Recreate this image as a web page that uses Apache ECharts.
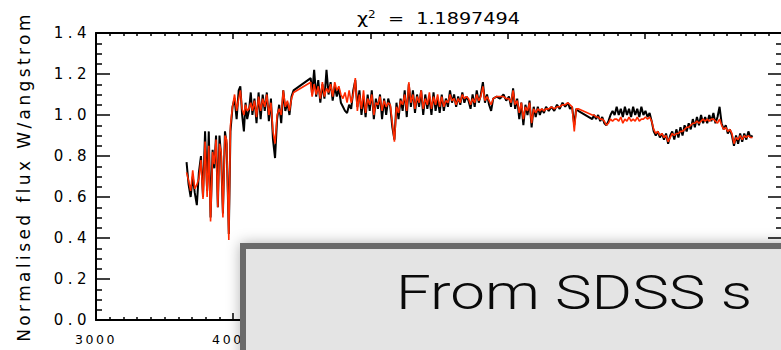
<!DOCTYPE html>
<html>
<head>
<meta charset="utf-8">
<script src="https://cdn.jsdelivr.net/npm/echarts@6/dist/echarts.min.js"></script>
<style>
html,body{margin:0;padding:0;background:#fff;}
#chart{width:781px;height:350px;}
/* IDL-style wide character spacing for axis texts */
#chart text[style*="17px"]{letter-spacing:3.4px;}
#chart text[style*="15px"]{letter-spacing:4.5px;}
#chart text[style*="12.5px"]{letter-spacing:2.6px;}
</style>
</head>
<body>
<div id="chart"></div>
<script>
// Wavelength (angstrom)
var wavelength = [3660,3675,3690,3705,3720,3735,3750,3765,3780,3795,3810,3822,3835,3850,3862,3875,3888,3900,3912,3925,3940,3952,3968,3980,3995,
4010,4025,4040,4052,4065,4078,4090,4102,4115,4128,4140,4155,4170,4185,4200,4215,4230,4245,4260,4275,4290,4305,4320,4335,4350,4365,4380,4395,4410,4425,4440,
4565,4575,4590,4605,4620,4635,4650,4665,4680,4695,4710,4725,4740,4755,4770,4785,4800,4815,4830,4845,4860,4875,4890,4905,4920,4935,4950,4965,4980,4995,
5010,5025,5040,5055,5070,5085,5100,5115,5130,5145,5160,5175,5190,5205,5220,5235,5250,5265,5280,5295,5310,5325,5340,5355,5370,5385,5400,5415,5430,5445,
5460,5475,5490,5505,5520,5535,5550,5565,5580,5595,5610,5625,5640,5655,5670,5685,5700,5715,5730,5745,5760,5775,5790,5805,5820,5835,5850,5865,5880,5895,
5920,5945,5970,5990,6010,6025,6040,6055,6070,6085,6100,6115,6130,6145,6160,6175,6190,6205,6220,6235,6250,6265,6280,6300,6320,6340,6360,6380,6400,6420,
6440,6455,6470,6486,6500,6515,6617,6630,6645,6660,6675,6690,6705,6720,6735,6750,6765,6780,6795,6810,6825,6840,6855,6870,6885,6900,6915,6930,6945,6960,
6975,6990,7005,7020,7035,7050,7065,7080,7095,7110,7125,7140,7155,7170,7185,7200,7215,7230,7245,7260,7275,7290,7305,7320,7335,7350,7365,7380,7395,7410,
7425,7440,7455,7470,7485,7500,7515,7530,7545,7560,7575,7590,7605,7620,7635,7650,7665,7680,7695,7710,7725,7740,7755,7770,7785];

// Observed spectrum (black)
var fluxObserved = [0.77,0.66,0.60,0.70,0.62,0.56,0.72,0.80,0.60,0.92,0.63,0.92,0.50,0.83,0.74,0.90,0.55,0.90,0.80,0.52,0.92,0.86,0.42,0.92,1.04,
1.08,0.98,1.12,1.14,1.00,0.92,1.06,0.98,1.02,1.11,1.00,1.08,0.96,1.11,0.98,1.10,1.02,1.11,0.97,1.08,0.88,0.79,0.98,1.05,0.96,1.12,1.02,1.06,1.00,1.09,1.12,
1.18,1.10,1.22,1.09,1.17,1.06,1.15,1.08,1.22,1.10,1.16,1.07,1.14,1.09,1.13,1.06,1.04,1.02,1.01,1.05,1.03,1.12,1.17,1.04,1.12,1.00,1.09,0.99,1.10,1.02,
1.12,0.98,1.08,1.03,1.10,0.98,1.08,1.00,1.08,1.04,0.94,0.88,1.06,0.98,1.08,1.02,1.12,0.99,1.15,1.04,1.12,1.01,1.10,1.04,1.12,1.00,1.10,1.03,1.09,1.00,
1.11,1.02,1.08,1.01,1.10,1.02,1.08,1.04,1.12,1.06,1.10,1.04,1.09,1.05,1.11,1.06,1.09,1.07,1.03,1.10,1.04,1.12,1.06,1.10,1.16,1.06,1.10,1.05,1.02,1.08,
1.09,1.08,1.10,1.07,1.09,1.04,1.13,1.03,1.08,0.98,1.06,0.95,1.05,1.00,1.07,0.94,1.04,0.99,1.04,1.00,1.03,1.01,1.04,1.02,1.04,1.02,1.05,1.03,1.06,1.04,
1.06,1.03,1.04,0.95,1.03,1.02,0.98,1.00,0.98,1.00,0.97,0.99,0.96,0.95,0.97,1.00,1.02,1.00,1.04,1.00,1.03,0.99,1.04,1.00,1.03,0.99,1.04,1.00,1.03,0.99,
1.04,1.00,1.02,0.99,1.01,0.97,0.92,0.90,0.92,0.89,0.91,0.88,0.91,0.86,0.90,0.92,0.88,0.93,0.89,0.94,0.90,0.95,0.92,0.96,0.93,0.98,0.94,0.99,0.95,1.00,
0.96,0.99,0.96,1.00,0.97,1.01,0.96,0.99,1.04,0.96,0.93,0.95,0.91,0.93,0.90,0.85,0.90,0.86,0.91,0.87,0.91,0.88,0.92,0.89,0.90];

// Model fit (red)
var fluxModel = [0.72,0.68,0.63,0.73,0.64,0.66,0.69,0.78,0.59,0.87,0.60,0.85,0.48,0.82,0.76,0.88,0.55,0.86,0.82,0.50,0.90,0.88,0.39,0.95,1.04,
1.10,1.02,1.08,1.12,1.03,1.00,1.05,1.02,1.03,1.06,1.02,1.07,0.99,1.09,1.02,1.08,1.04,1.10,1.00,1.06,0.92,0.86,1.00,1.03,1.00,1.12,1.04,1.07,1.02,1.08,1.11,
1.16,1.09,1.15,1.10,1.14,1.08,1.16,1.09,1.13,1.11,1.15,1.09,1.16,1.12,1.14,1.10,1.08,1.11,1.06,1.12,1.06,1.10,1.18,1.02,1.10,1.03,1.12,1.01,1.08,1.05,
1.10,1.00,1.06,1.05,1.09,1.02,1.07,1.04,1.06,1.05,0.96,0.87,1.04,1.01,1.07,1.05,1.10,1.02,1.16,1.06,1.10,1.03,1.09,1.06,1.12,1.03,1.08,1.05,1.11,1.03,
1.09,1.05,1.10,1.04,1.09,1.04,1.07,1.06,1.10,1.07,1.08,1.05,1.08,1.06,1.10,1.08,1.09,1.08,1.05,1.08,1.06,1.10,1.07,1.09,1.14,1.07,1.09,1.07,1.05,1.08,
1.09,1.09,1.09,1.08,1.08,1.06,1.12,1.05,1.07,1.01,1.06,0.98,1.04,1.02,1.06,0.96,1.03,1.01,1.03,1.02,1.03,1.02,1.03,1.03,1.04,1.03,1.04,1.04,1.05,1.05,
1.06,1.05,1.04,0.92,1.03,1.03,1.00,1.00,0.99,0.99,0.98,0.98,0.97,0.95,0.96,0.98,0.97,0.98,0.98,0.97,0.99,0.96,0.98,0.97,0.99,0.97,0.98,0.97,0.99,0.97,
0.98,0.98,0.99,0.98,0.99,0.97,0.93,0.91,0.92,0.90,0.91,0.89,0.90,0.87,0.89,0.91,0.90,0.91,0.91,0.92,0.92,0.93,0.94,0.94,0.95,0.96,0.96,0.97,0.96,0.97,
0.98,0.97,0.98,0.97,0.98,0.98,0.97,0.96,0.98,0.95,0.93,0.94,0.92,0.93,0.91,0.86,0.89,0.88,0.90,0.88,0.90,0.89,0.90,0.89,0.89];

var xTicks = [3000,4000,5000,6000,7000,8000];
var yTicks = [0.0,0.2,0.4,0.6,0.8,1.0,1.2,1.4];
var chiSquared = '1.1897494';
var yTitle = 'Normalised flux W/angstrom';
var overlayText = 'From SDSS s';

var obsData = [], modData = [];
for (var i = 0; i < wavelength.length; i++) {
  obsData.push([wavelength[i], fluxObserved[i]]);
  modData.push([wavelength[i], fluxModel[i]]);
}

var chart = echarts.init(document.getElementById('chart'), null, {renderer: 'svg'});
var FONT = 'DejaVu Sans';
var axisCommon = {
  axisLine: {show: true, onZero: false, lineStyle: {color: '#000', width: 2}},
  splitLine: {show: false},
  minorSplitLine: {show: false}
};
var option = {
  animation: false,
  backgroundColor: '#fff',
  grid: {left: 96, top: 33, width: 686, height: 287, containLabel: false, outerBoundsMode: 'none'},
  xAxis: [
    Object.assign({}, axisCommon, {
      type: 'value', position: 'bottom', min: xTicks[0], max: xTicks[xTicks.length-1], interval: 1000,
      axisTick: {show: true, inside: true, length: 7, lineStyle: {color: '#000', width: 1.5}},
      minorTick: {show: true, splitNumber: 10, length: 3, lineStyle: {color: '#000', width: 1.5}},
      axisLabel: {show: true, margin: 13, color: '#000', fontFamily: FONT, fontSize: 12.5,
        showMaxLabel: false,
        formatter: function (v) { return xTicks.indexOf(v) >= 0 ? String(v) : ''; }}
    }),
    Object.assign({}, axisCommon, {
      type: 'value', position: 'top', min: xTicks[0], max: xTicks[xTicks.length-1], interval: 1000,
      axisTick: {show: true, inside: true, length: 6, lineStyle: {color: '#000', width: 1.5}},
      minorTick: {show: true, splitNumber: 10, length: 3, lineStyle: {color: '#000', width: 1.5}},
      axisLabel: {show: false}
    })
  ],
  yAxis: [
    Object.assign({}, axisCommon, {
      type: 'value', position: 'left', min: yTicks[0], max: yTicks[yTicks.length-1], interval: 0.2,
      axisTick: {show: true, inside: true, length: 14, lineStyle: {color: '#000', width: 1.5}},
      minorTick: {show: true, splitNumber: 4, length: 6, lineStyle: {color: '#000', width: 1.5}},
      axisLabel: {show: true, margin: 5, color: '#000', fontFamily: FONT, fontSize: 15,
        formatter: function (v) { return v.toFixed(1); }},
      name: yTitle, nameLocation: 'middle', nameGap: 64, nameRotate: 90,
      nameTextStyle: {color: '#000', fontFamily: FONT, fontSize: 17}
    }),
    Object.assign({}, axisCommon, {
      type: 'value', position: 'right', min: yTicks[0], max: yTicks[yTicks.length-1], interval: 0.2,
      axisTick: {show: true, inside: true, length: 14, lineStyle: {color: '#000', width: 1.5}},
      minorTick: {show: true, splitNumber: 4, length: 6, lineStyle: {color: '#000', width: 1.5}},
      axisLabel: {show: false}
    })
  ],
  series: [
    {type: 'line', name: 'observed', data: obsData, xAxisIndex: 0, yAxisIndex: 0, showSymbol: false, symbol: 'none',
      lineStyle: {color: '#000', width: 2}, z: 2},
    {type: 'line', name: 'model', data: modData, xAxisIndex: 0, yAxisIndex: 0, showSymbol: false, symbol: 'none',
      lineStyle: {color: '#ff2a00', width: 1.6}, z: 3}
  ],
  graphic: [
    {type: 'text', x: 357, y: 10, scaleX: 1.2, z: 10,
      style: {rich: {
        a: {fontFamily: FONT, fontSize: 16, fill: '#000'},
        s: {fontFamily: FONT, fontSize: 10, fill: '#000', verticalAlign: 'top', padding: [0,0,8,0]}
      }, text: '{a|χ}{s|2}{a|  =  ' + chiSquared + '}'}},
    {type: 'rect', z: 20, shape: {x: 243, y: 246, width: 620, height: 200},
      style: {fill: '#e4e4e4', stroke: '#6b6b6b', lineWidth: 6, shadowBlur: 14, shadowColor: 'rgba(0,0,0,0.3)'}},
    {type: 'text', z: 21, x: 396, y: 269, scaleX: 1.29,
      style: {text: overlayText, fill: '#0a0a0a', fontFamily: 'Roboto', fontWeight: 300, fontSize: 48}}
  ]
};
chart.setOption(option);
</script>
</body>
</html>
